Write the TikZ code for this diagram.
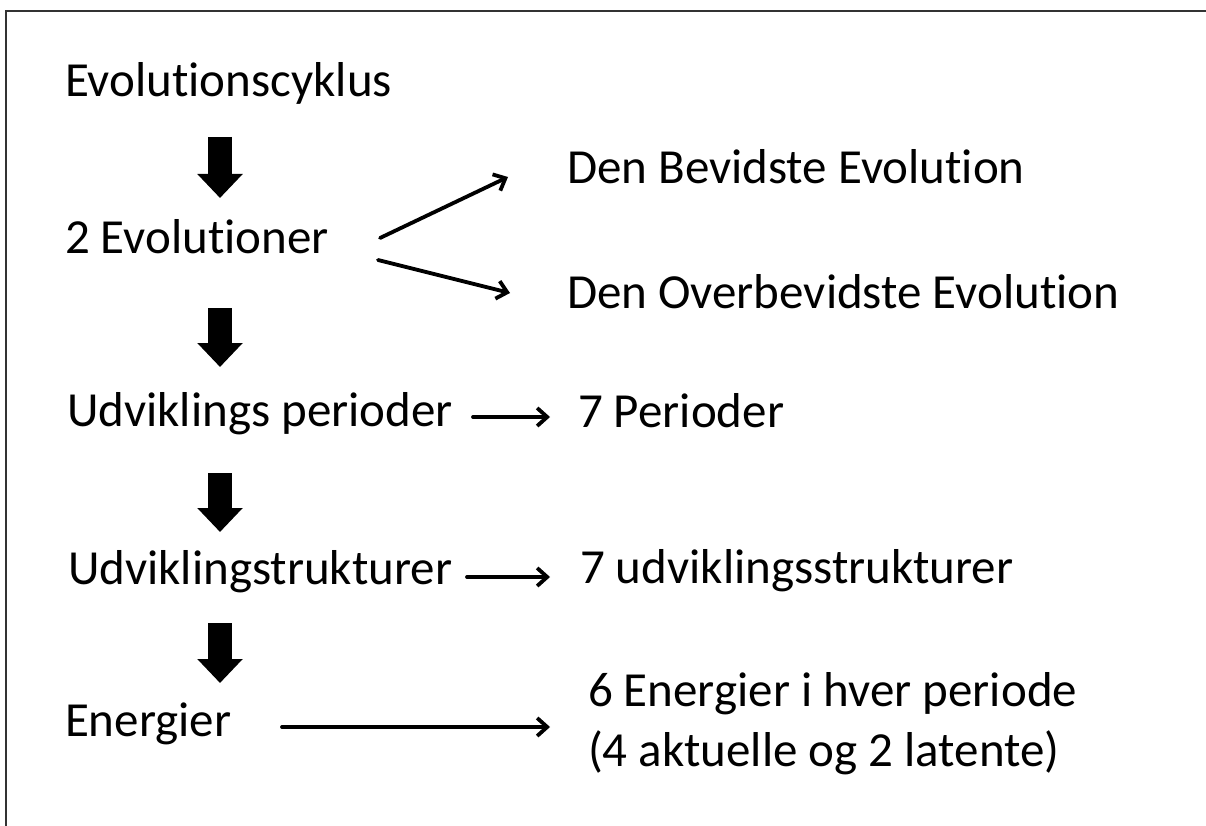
\documentclass[tikz,border=0pt]{standalone}
\usepackage{fontspec}
\setmainfont[Ligatures=NoCommon]{Carlito}
\usetikzlibrary{arrows.meta,calc}
\begin{document}
\begin{tikzpicture}[x=1pt,y=-1pt,
  label text/.style={anchor=base west,inner sep=0pt,outer sep=0pt,
    font=\fontsize{49}{59}\selectfont,text=black},
  bigarrow/.style={line width=24pt,line cap=butt,
    -{Triangle[length=24pt,width=44pt]}},
  smallarrow/.style={line width=3.8pt,line cap=round,
    -{Straight Barb[length=10pt,width=18pt]}},
  frameline/.style={line width=2pt,draw=black!80}]
\useasboundingbox (0,0) rectangle (1206,826);
\fill[white] (0,0) rectangle (1206,826);
% open frame: top and left edges
\draw[frameline] (6,826) -- (6,11) -- (1206,11);

% main column
\node[label text] (cyc) at (65,97)  {Evolutionscyklus};
\node[label text] (evo) at (65,253) {2 Evolutioner};
\node[label text] (per) at (67,426) {Udviklings perioder};
\node[label text] (str) at (68,584) {Udviklingstrukturer};
\node[label text] (ene) at (65,736) {Energier};

% right column
\node[label text] (bev)  at (567,184) {Den Bevidste Evolution};
\node[label text] (obev) at (567,308) {Den Overbevidste Evolution};
\node[label text] (sev)  at (578,427) {7 Perioder};
\node[label text] (sst)  at (580,583) {7 udviklingsstrukturer};
\node[label text] (six)  at (588,706) {6 Energier i hver periode};
\node[label text] (lat)  at (588,766) {(4 aktuelle og 2 latente)};

% thick downward arrows
\draw[bigarrow] ($(cyc.base west)+(155,40)$) -- ($(evo.base west)+(155,-55)$);
\draw[bigarrow] ($(evo.base west)+(155,55)$) -- ($(per.base west)+(153,-59)$);
\draw[bigarrow] ($(per.base west)+(153,47)$) -- ($(str.base west)+(152,-52)$);
\draw[bigarrow] ($(str.base west)+(152,39)$) -- ($(ene.base west)+(155,-53)$);

% thin arrows to the right column
\draw[smallarrow] ($(evo.base west)+(315,-15)$) -- ($(bev.base west)+(-59,-7)$);
\draw[smallarrow] ($(evo.base west)+(313,7)$)   -- ($(obev.base west)+(-57,-15)$);
\draw[smallarrow] ($(per.base west)+(406,-9)$)  -- ($(sev.base west)+(-28,-10)$);
\draw[smallarrow] ($(str.base west)+(399,-7)$)  -- ($(sst.base west)+(-30,-6)$);
\draw[smallarrow] ($(ene.base west)+(217,-9)$)  -- ($(six.base west)+(-38,21)$);
\end{tikzpicture}
\end{document}
